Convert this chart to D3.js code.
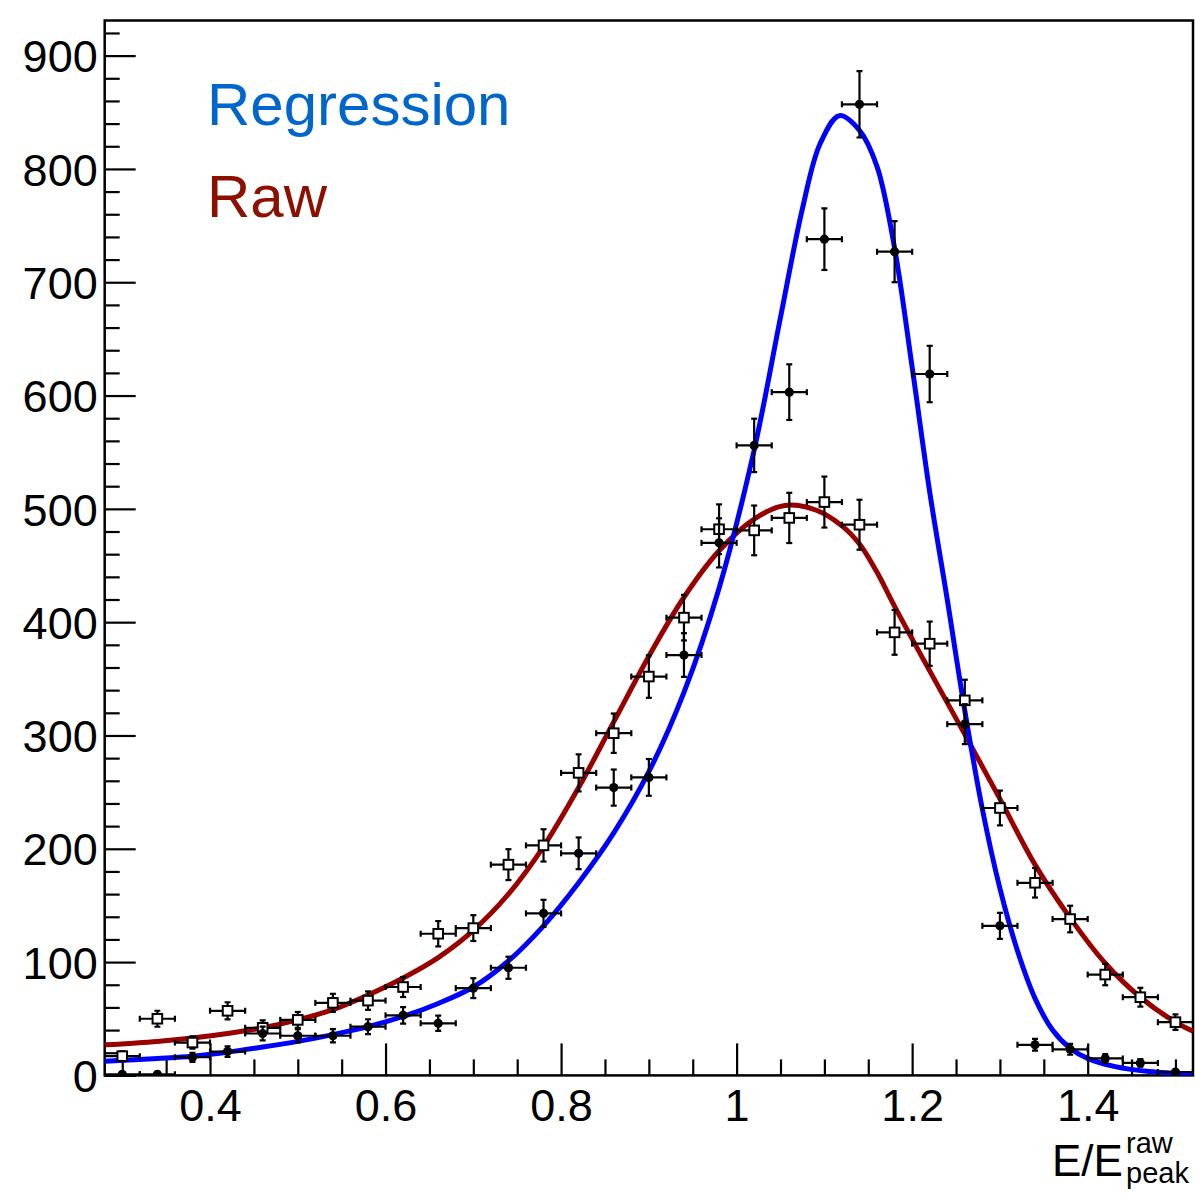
<!DOCTYPE html>
<html>
<head>
<meta charset="utf-8">
<script src="https://cdn.jsdelivr.net/npm/d3@7"></script>
<style>
  html, body { margin: 0; padding: 0; background: #fff; }
  svg { display: block; }
  text { font-family: "Liberation Sans", Arial, Helvetica, sans-serif; }
</style>
</head>
<body>
<script>
// ---------------- data ----------------
const binCenters = [0.30,0.34,0.38,0.42,0.46,0.50,0.54,0.58,0.62,0.66,0.70,0.74,0.78,0.82,0.86,0.90,
                    0.94,0.98,1.02,1.06,1.10,1.14,1.18,1.22,1.26,1.30,1.34,1.38,1.42,1.46,1.50];
const binHalfWidth = 0.02;

// Regression (filled circles)
const regressionCounts = [1,1,16,21,37,35,35,43,53,46,77,95,143,196,254,263,
                          371,470,556,603,738,857,727,619,310,132,27,23,15,11,3];
// Raw (open squares)
const rawCounts = [17,50,29,57,42,49,64,66,78,125,130,186,203,267,302,352,
                   404,482,481,492,506,486,391,381,331,236,170,138,89,69,47];

// fitted curves
const regressionFitX = [0.28,0.34,0.38,0.42,0.46,0.50,0.54,0.58,0.62,0.66,0.70,0.74,0.78,0.82,0.86,0.90,
                        0.94,0.98,1.02,1.05,1.075,1.095,1.117,1.14,1.16,1.18,1.20,1.22,1.24,1.26,1.28,
                        1.30,1.32,1.34,1.36,1.38,1.40,1.43,1.47,1.52];
const regressionFitY = [12.5,15,17,20.5,25,30,36,43,52,63.5,78,101,132,170,214,268,
                        338,430,552,669,765,822,847,834,802,730,625,515,420,322,235,
                        165,110,68,40,24,15,8,3.5,1.2];
const rawFitX = [0.28,0.34,0.38,0.42,0.46,0.50,0.54,0.58,0.62,0.66,0.70,0.74,0.78,0.82,0.86,0.90,
                 0.94,0.98,1.02,1.055,1.09,1.12,1.14,1.16,1.18,1.22,1.26,1.30,1.34,1.38,1.42,1.46,1.50,1.52];
const rawFitY = [27,30,33,37,42,49,58,71,86,104,128,160,202,254,312,370,
                 422,463,491,503,499,485,469,444,414,357,301,244,186,139,99,69,47,39];

const yMajorTicks = [0,100,200,300,400,500,600,700,800,900];
const yTickLabels = ["0","100","200","300","400","500","600","700","800","900"];
const xMajorTicks = [0.4,0.6,0.8,1.0,1.2,1.4];
const xTickLabels = ["0.4","0.6","0.8","1","1.2","1.4"];

const legendLabels = ["Regression","Raw"];

// ---------------- layout ----------------
const W = 1195, H = 1195;
const pLeft = 104.7, pRight = 1193, pTop = 20.5, pBottom = 1075.4;

const x = d3.scaleLinear().domain([0.28, 1.52]).range([pLeft, pRight]);
const y = d3.scaleLinear().domain([0, 931]).range([pBottom, pTop]);

const svg = d3.select("body").append("svg").attr("width", W).attr("height", H);

svg.append("clipPath").attr("id","plotclip").append("rect")
  .attr("x", pLeft).attr("y", pTop).attr("width", pRight-pLeft).attr("height", pBottom-pTop);

// ---------------- axes ----------------
const yMinor = d3.range(0, 931, 20).filter(v => v % 100 !== 0);
const xMinor = d3.range(0.30, 1.5001, 0.05).map(v => +v.toFixed(2))
  .filter(v => !xMajorTicks.some(m => Math.abs(m-v) < 1e-6));

const gyMinor = svg.append("g").attr("transform", `translate(${pLeft},0)`)
  .call(d3.axisLeft(y).tickValues(yMinor).tickSize(-15).tickFormat(""));
const gy = svg.append("g").attr("transform", `translate(${pLeft},0)`)
  .call(d3.axisLeft(y).tickValues(yMajorTicks).tickSize(-31).tickPadding(7)
        .tickFormat((d,i) => yTickLabels[i]));
const gxMinor = svg.append("g").attr("transform", `translate(0,${pBottom})`)
  .call(d3.axisBottom(x).tickValues(xMinor).tickSize(-16).tickFormat(""));
const gx = svg.append("g").attr("transform", `translate(0,${pBottom})`)
  .call(d3.axisBottom(x).tickValues(xMajorTicks).tickSize(-32).tickPadding(14)
        .tickFormat((d,i) => xTickLabels[i]));

[gyMinor, gy, gxMinor, gx].forEach(g => {
  g.select(".domain").remove();
  g.selectAll(".tick line").attr("stroke", "#000").attr("stroke-width", 2.2);
  g.selectAll("text").attr("fill", "#000").style("font-size", "45px")
    .style("font-family", "'Liberation Sans', Arial, sans-serif");
});
gy.selectAll("text").attr("dy", "0.36em");

// frame
svg.append("rect").attr("x", pLeft).attr("y", pTop).attr("width", pRight-pLeft).attr("height", pBottom-pTop)
  .attr("fill", "none").attr("stroke", "#000").attr("stroke-width", 2.5);

// ---------------- plot content ----------------
const plot = svg.append("g").attr("clip-path", "url(#plotclip)");

const line = d3.line().curve(d3.curveCatmullRom.alpha(0.5));

function drawPoints(counts, shape) {
  const g = plot.append("g");
  const data = binCenters.map((c, i) => ({c, v: counts[i], e: Math.sqrt(counts[i])}));
  const cap = 3;
  data.forEach(d => {
    const cx = x(d.c), cy = y(d.v);
    const x0 = x(d.c - binHalfWidth), x1 = x(d.c + binHalfWidth);
    const y0 = y(d.v - d.e), y1 = y(d.v + d.e);
    const eb = g.append("g").attr("stroke", "#000").attr("stroke-width", 2.2);
    eb.append("line").attr("x1", x0).attr("x2", x1).attr("y1", cy).attr("y2", cy);
    eb.append("line").attr("x1", x0).attr("x2", x0).attr("y1", cy-cap).attr("y2", cy+cap);
    eb.append("line").attr("x1", x1).attr("x2", x1).attr("y1", cy-cap).attr("y2", cy+cap);
    eb.append("line").attr("x1", cx).attr("x2", cx).attr("y1", y0).attr("y2", y1);
    eb.append("line").attr("x1", cx-cap).attr("x2", cx+cap).attr("y1", y0).attr("y2", y0);
    eb.append("line").attr("x1", cx-cap).attr("x2", cx+cap).attr("y1", y1).attr("y2", y1);
    if (shape === "circle") {
      g.append("circle").attr("cx", cx).attr("cy", cy).attr("r", 4.6).attr("fill", "#000");
    } else {
      g.append("rect").attr("x", cx-4.8).attr("y", cy-4.8).attr("width", 9.6).attr("height", 9.6)
        .attr("fill", "#fff").attr("stroke", "#000").attr("stroke-width", 2);
    }
  });
}

plot.append("path")
  .attr("d", line(rawFitX.map((v,i) => [x(v), y(rawFitY[i])])))
  .attr("fill", "none").attr("stroke", "#990000").attr("stroke-width", 5);
plot.append("path")
  .attr("d", line(regressionFitX.map((v,i) => [x(v), y(regressionFitY[i])])))
  .attr("fill", "none").attr("stroke", "#0000ff").attr("stroke-width", 5);

drawPoints(rawCounts, "square");
drawPoints(regressionCounts, "circle");

// ---------------- legend ----------------
svg.append("text").attr("x", 207).attr("y", 125).attr("fill", "#0066cc")
  .style("font-size", "60px").text(legendLabels[0]);
svg.append("text").attr("x", 207).attr("y", 217).attr("fill", "#8b1000")
  .style("font-size", "60px").text(legendLabels[1]);

// ---------------- axis title ----------------
const t = svg.append("g");
t.append("text").attr("x", 1052).attr("y", 1176).style("font-size", "44px").attr("fill", "#000").text("E/E");
t.append("text").attr("x", 1126).attr("y", 1153).style("font-size", "29px").attr("fill", "#000").text("raw");
t.append("text").attr("x", 1126).attr("y", 1183).style("font-size", "29px").attr("fill", "#000").text("peak");
</script>
</body>
</html>
